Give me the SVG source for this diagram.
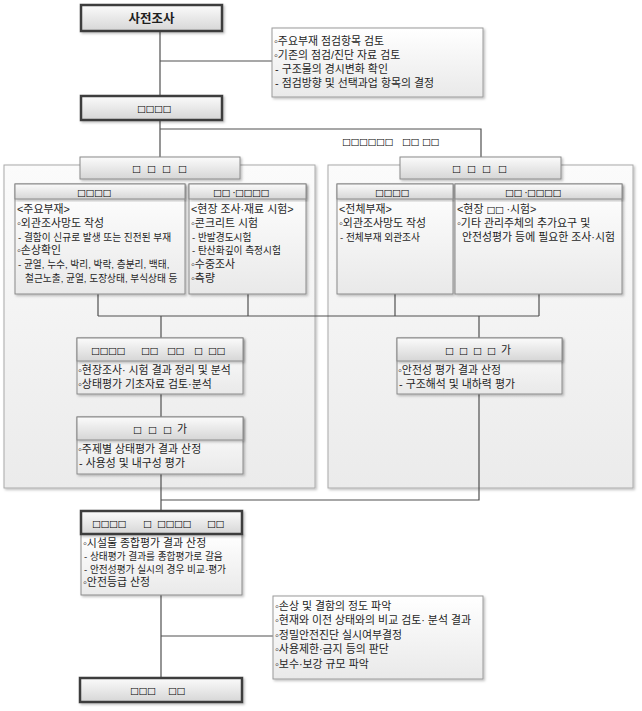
<svg xmlns="http://www.w3.org/2000/svg" width="642" height="711" viewBox="0 0 642 711">
<defs>
<linearGradient id="gHdr" x1="0" y1="0" x2="0" y2="1"><stop offset="0" stop-color="#fbfbfb"/><stop offset="1" stop-color="#d6d6d6"/></linearGradient>
<linearGradient id="gPanel" x1="0" y1="0" x2="0" y2="1"><stop offset="0" stop-color="#fbfbfb"/><stop offset="1" stop-color="#ebebeb"/></linearGradient>
<linearGradient id="gBody" x1="0" y1="0" x2="0" y2="1"><stop offset="0" stop-color="#ffffff"/><stop offset="1" stop-color="#e9e9e9"/></linearGradient>
<filter id="sh" x="-5%" y="-5%" width="115%" height="125%"><feDropShadow dx="1.5" dy="1.5" stdDeviation="1" flood-color="#000" flood-opacity="0.25"/></filter>
</defs>
<style>
.main{fill:url(#gHdr);stroke:#3c3c3c;stroke-width:2.5;filter:url(#sh)}
.hdr{fill:url(#gHdr);stroke:#8a8a8a;stroke-width:1;filter:url(#sh)}
.body{fill:url(#gBody);stroke:#8a8a8a;stroke-width:1;filter:url(#sh)}
.panel{fill:url(#gPanel);stroke:#aaaaaa;stroke-width:1;filter:url(#sh)}
.note{fill:url(#gBody);stroke:#9a9a9a;stroke-width:1;filter:url(#sh)}
.con{fill:none;stroke:#505050;stroke-width:1.2}
text{font-family:"Liberation Sans","Noto Sans CJK KR",sans-serif;fill:#1e1e1e}
.t{font-size:10.9px}
.s{font-size:9.7px}
.tf{font-family:"DejaVu Sans",sans-serif;font-size:9.5px;letter-spacing:-0.5px;fill:#000}
.ttl{font-size:12.5px;font-weight:bold}
</style>
<rect width="642" height="711" fill="#ffffff"/>

<g id="panel-left"><rect class="panel" x="4" y="165" width="311" height="323"/></g>
<g id="panel-right"><rect class="panel" x="328" y="165" width="305" height="323"/></g>

<g id="connectors">
<path class="con" d="M160,31 V96 M160,61 H272"/>
<path class="con" d="M160,121 V157 M160,129 H481 V157"/>
<path class="con" d="M98,294 V316 M248,294 V316 M395,294 V316 M539,294 V316 M98,316 H539"/>
<path class="con" d="M161,316 V338 M479,316 V338"/>
<path class="con" d="M161,394 V417"/>
<path class="con" d="M161,474 V511 M479,394 V500 H161"/>
<path class="con" d="M161,595 V678 M161,636 H273"/>
</g>

<g id="n-presurvey">
<rect class="main" x="81" y="5" width="141" height="26"/>
<text class="ttl" x="151.5" y="23" text-anchor="middle">사전조사</text>
</g>

<g id="note-top">
<rect class="note" x="272" y="28" width="211" height="69"/>
<text class="t" x="274" y="45">◦주요부재 점검항목 검토</text>
<text class="t" x="274" y="59">◦기존의 점검/진단 자료 검토</text>
<text class="t" x="275" y="73"> - 구조물의 경시변화 확인</text>
<text class="t" x="275" y="87"> - 점검방향 및 선택과업 항목의 결정</text>
</g>

<g id="n-plan">
<rect class="main" x="81" y="96" width="141" height="24"/>
<text class="tf" x="137" y="112">□□□□</text>
</g>

<text class="tf" x="342" y="145">□□□□□□</text>
<text class="tf" x="402" y="145">□□</text>
<text class="tf" x="422" y="145">□□</text>

<g id="hdr-left">
<rect class="hdr" x="80" y="157" width="160" height="22"/>
<text class="tf" y="172"><tspan x="132">□</tspan><tspan x="147">□</tspan><tspan x="162">□</tspan><tspan x="178">□</tspan></text>
</g>

<g id="sub-left-1">
<rect class="body" x="15" y="184" width="170" height="110"/>
<rect class="hdr" x="15" y="184" width="170" height="15"/>
<text class="tf" x="77" y="195.5">□□□□</text>
<text class="t" x="17" y="213">&lt;주요부재&gt;</text>
<text class="t" x="17" y="227">◦외관조사망도 작성</text>
<text class="s" x="18" y="241">- 결함이 신규로 발생 또는 진전된 부재</text>
<text class="t" x="17" y="254">◦손상확인</text>
<text class="s" x="18" y="268">- 균열, 누수, 박리, 박락, 층분리, 백태,</text>
<text class="s" x="25" y="282">철근노출, 균열, 도장상태, 부식상태 등</text>
</g>

<g id="sub-left-2">
<rect class="body" x="189" y="184" width="117" height="110"/>
<rect class="hdr" x="189" y="184" width="117" height="15"/>
<text class="tf" x="213" y="195.5">□□ ·□□□□</text>
<text class="t" x="191" y="213">&lt;현장 조사·재료 시험&gt;</text>
<text class="t" x="191" y="227">◦콘크리트 시험</text>
<text class="s" x="192" y="241">- 반발경도시험</text>
<text class="s" x="192" y="254">- 탄산화깊이 측정시험</text>
<text class="t" x="191" y="268">◦수중조사</text>
<text class="t" x="191" y="282">◦측량</text>
</g>

<g id="hdr-right">
<rect class="hdr" x="400" y="157" width="161" height="22"/>
<text class="tf" y="172"><tspan x="452">□</tspan><tspan x="467">□</tspan><tspan x="482">□</tspan><tspan x="498">□</tspan></text>
</g>

<g id="sub-right-1">
<rect class="body" x="337" y="184" width="116" height="110"/>
<rect class="hdr" x="337" y="184" width="116" height="15"/>
<text class="tf" x="375" y="195.5">□□□□</text>
<text class="t" x="339" y="213">&lt;전체부재&gt;</text>
<text class="t" x="339" y="227">◦외관조사망도 작성</text>
<text class="s" x="340" y="241">- 전체부재 외관조사</text>
</g>

<g id="sub-right-2">
<rect class="body" x="455" y="184" width="167" height="110"/>
<rect class="hdr" x="455" y="184" width="167" height="15"/>
<text class="tf" x="505" y="195.5">□□ ·□□□□</text>
<text class="t" x="457" y="213">&lt;현장 <tspan class="tf">□□</tspan>  ·시험&gt;</text>
<text class="t" x="457" y="227">◦기타 관리주체의 추가요구 및</text>
<text class="t" x="462" y="241">안전성평가 등에 필요한 조사·시험</text>
</g>

<g id="n-analysis">
<rect class="body" x="77" y="338" width="166" height="56"/>
<rect class="hdr" x="77" y="338" width="166" height="23"/>
<text class="tf" y="353.5"><tspan x="91">□□□□</tspan><tspan x="141">□□</tspan><tspan x="167">□□</tspan><tspan x="194">□</tspan><tspan x="208">□□</tspan></text>
<text class="t" x="78" y="374">◦현장조사· 시험 결과 정리 및 분석</text>
<text class="t" x="78" y="388">◦상태평가 기초자료 검토·분석</text>
</g>

<g id="n-eval">
<rect class="body" x="77" y="417" width="166" height="57"/>
<rect class="hdr" x="77" y="417" width="166" height="23"/>
<text class="tf" y="432.5"><tspan x="133">□</tspan><tspan x="148">□</tspan><tspan x="163">□</tspan></text>
<text class="t" x="177" y="433">가</text>
<text class="t" x="78" y="453">◦주제별 상태평가 결과 산정</text>
<text class="t" x="79" y="467">- 사용성 및 내구성 평가</text>
</g>

<g id="n-safety">
<rect class="body" x="397" y="338" width="165" height="56"/>
<rect class="hdr" x="397" y="338" width="165" height="23"/>
<text class="tf" y="353.5"><tspan x="445">□</tspan><tspan x="459">□</tspan><tspan x="473">□</tspan><tspan x="487">□</tspan></text>
<text class="t" x="501" y="354">가</text>
<text class="t" x="398" y="374">◦안전성 평가 결과 산정</text>
<text class="t" x="399" y="388">- 구조해석 및 내하력 평가</text>
</g>

<g id="n-overall">
<rect class="body" x="81" y="534" width="161" height="61"/>
<rect class="main" x="81" y="511" width="161" height="23"/>
<text class="tf" y="527"><tspan x="92">□□□□</tspan><tspan x="143">□</tspan><tspan x="157">□□□□</tspan><tspan x="207">□□</tspan></text>
<text class="t" x="83" y="547">◦시설물 종합평가 결과 산정</text>
<text class="s" x="84" y="560">- 상태평가 결과를 종합평가로 갈음</text>
<text class="s" x="84" y="573">- 안전성평가 실시의 경우 비교·평가</text>
<text class="t" x="83" y="586">◦안전등급 산정</text>
</g>

<g id="note-bottom">
<rect class="note" x="273" y="596" width="210" height="83"/>
<text class="t" x="275" y="610">◦손상 및 결함의 정도 파악</text>
<text class="t" x="275" y="624">◦현재와 이전 상태와의 비교 검토· 분석 결과</text>
<text class="t" x="275" y="639">◦정밀안전진단 실시여부결정</text>
<text class="t" x="275" y="653">◦사용제한·금지 등의 판단</text>
<text class="t" x="275" y="668">◦보수·보강 규모 파악</text>
</g>

<g id="n-final">
<rect class="main" x="80" y="678" width="162" height="24"/>
<text class="tf" y="694"><tspan x="130">□□□</tspan><tspan x="168">□□</tspan></text>
</g>
</svg>
